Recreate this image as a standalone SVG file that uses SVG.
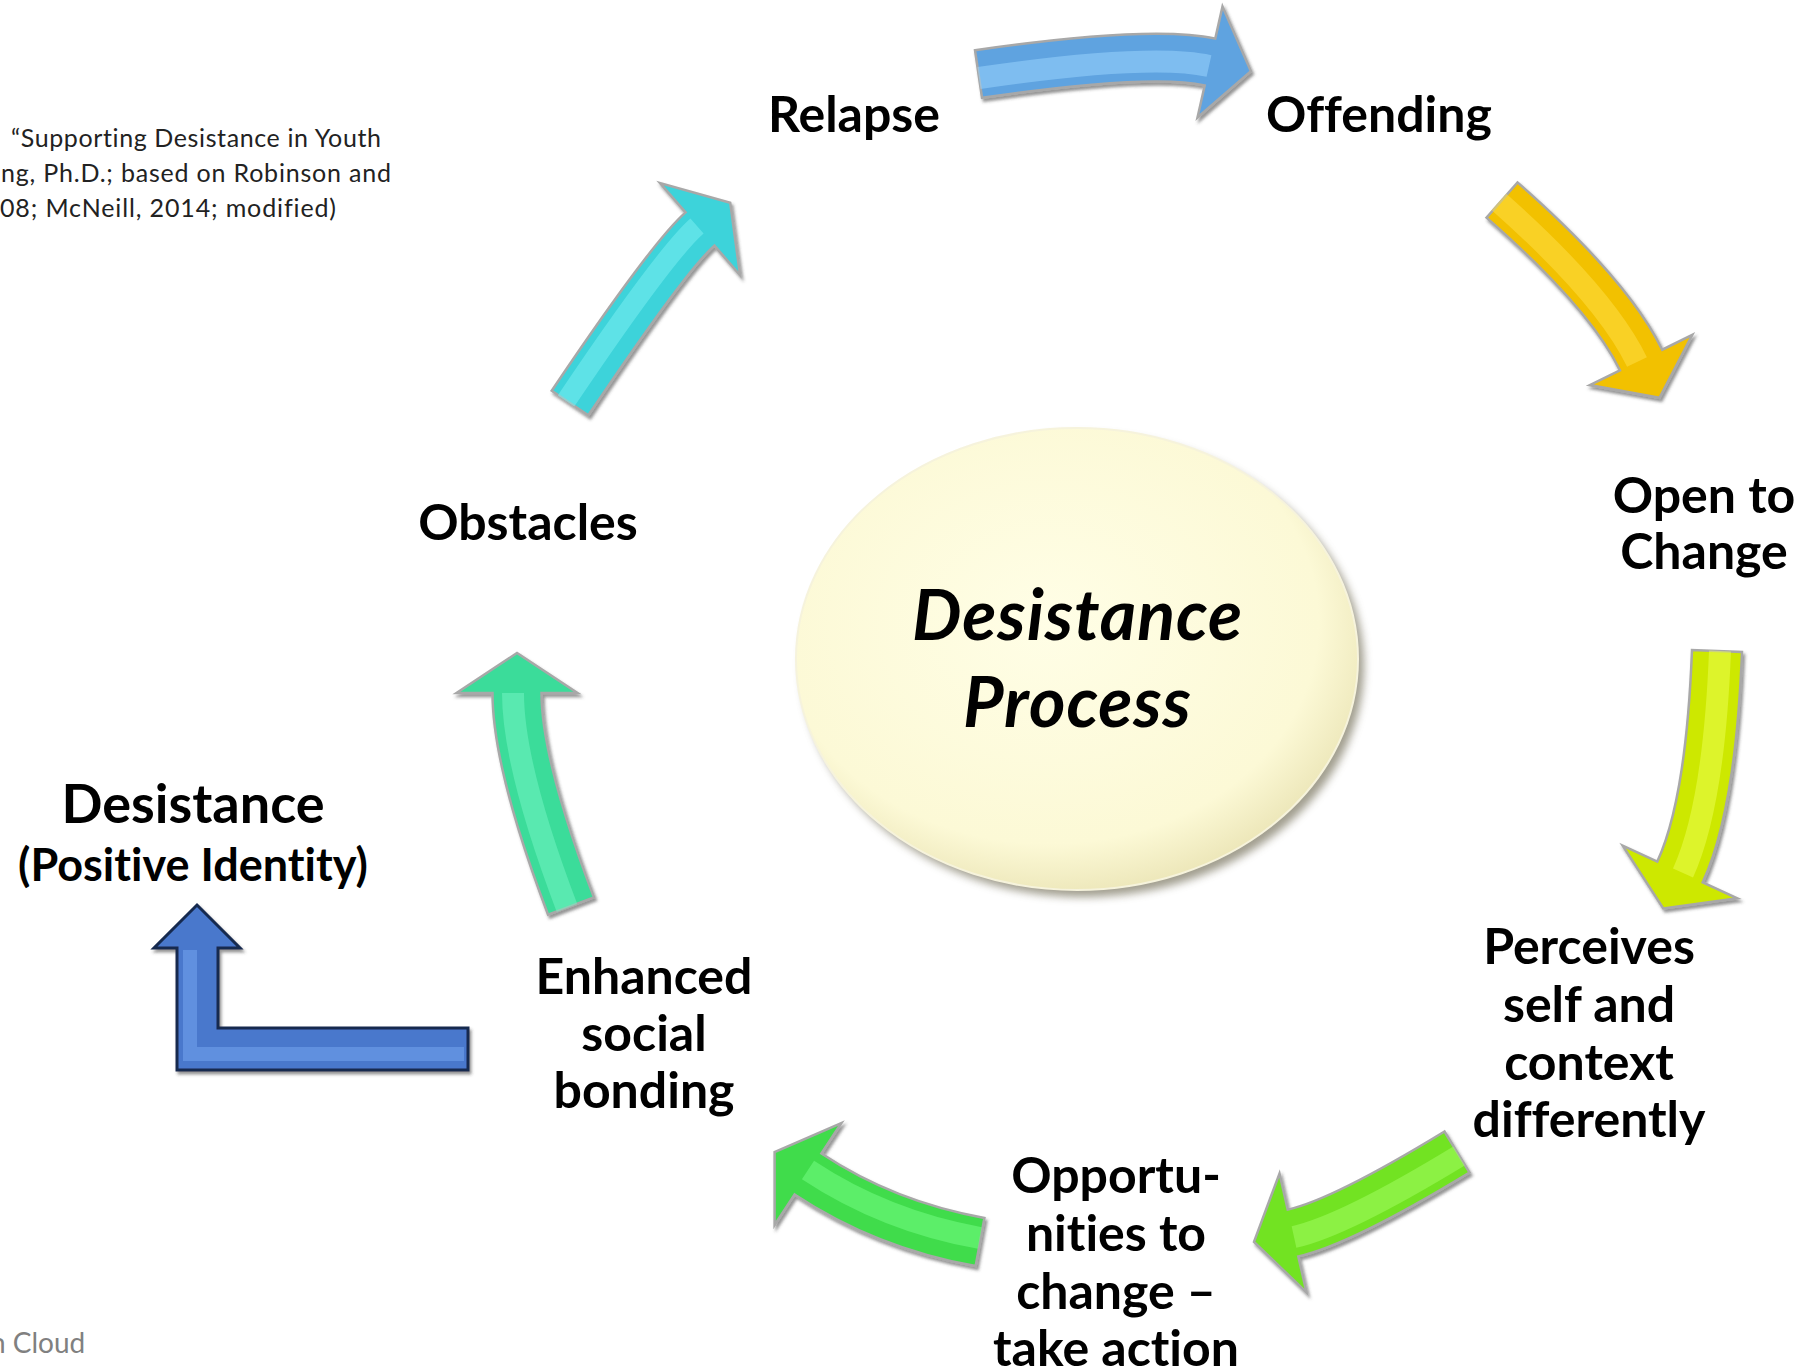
<svg xmlns="http://www.w3.org/2000/svg" width="1803" height="1372" viewBox="0 0 1803 1372">
<defs>
<style>
text{font-variant-ligatures:none}
.lbl{font-family:Lato,"Open Sans","Liberation Sans",sans-serif;font-weight:700;font-size:50px;fill:#000;text-anchor:middle}
.ctr{font-family:Lato,"Open Sans","Liberation Sans",sans-serif;font-weight:700;font-style:italic;font-size:70px;fill:#000;text-anchor:middle}
.cap{font-family:Lato,"Open Sans","Liberation Sans",sans-serif;font-weight:400;font-size:25px;fill:#222}
.foot{font-family:Lato,"Open Sans","Liberation Sans",sans-serif;font-weight:400;font-size:28px;fill:#808080}
.shape{stroke:#a8a8a8;stroke-width:2.5;stroke-linejoin:miter;filter:url(#sh)}
.hl{fill:none;stroke-linecap:butt;opacity:0.5}
</style>
<filter id="sh" x="-20%" y="-20%" width="140%" height="140%">
<feDropShadow dx="2" dy="3" stdDeviation="1.8" flood-color="#404040" flood-opacity="0.55"/>
</filter>
<filter id="esh" x="-10%" y="-10%" width="125%" height="125%">
<feGaussianBlur stdDeviation="4"/>
</filter>
<radialGradient id="eg" cx="0.45" cy="0.42" r="0.6">
<stop offset="0" stop-color="#fffee6"/>
<stop offset="0.8" stop-color="#fcf9d6"/>
<stop offset="1" stop-color="#ece6b8"/>
</radialGradient>
</defs>

<g id="connectors">
<g id="arrow-relapse-offending">
<path class="shape" fill="#5ea3e0" d="M975,50.2 Q1151.9,24.6 1215.3,38.6 L1222.5,6.5 L1250.9,71.2 L1197.5,117.5 L1204.7,85.4 Q1150.1,73.4 982,97.8 Z"/>
<path class="hl" stroke="#9ed8ff" stroke-width="22" d="M979,78 Q1151,53 1209,66"/>
</g>
<g id="arrow-offending-open">
<path class="shape" fill="#f2c100" d="M1517.5,182.4 Q1628,279.5 1662.2,349.7 L1692.3,334.9 L1659.5,397.8 L1589.7,385.1 L1619.9,370.3 Q1590,308.5 1486.5,217.6 Z"/>
<path class="hl" stroke="#ffe24a" stroke-width="22" d="M1499,202 Q1605,296 1637,362"/>
</g>
<g id="arrow-open-perceives">
<path class="shape" fill="#cde800" d="M1742,652 Q1735.8,810.9 1702.7,882.4 L1737.3,898.3 L1663.3,908.4 L1622.7,845.7 L1657.3,861.6 Q1686.2,799.1 1692,650 Z"/>
<path class="hl" stroke="#eeff55" stroke-width="22" d="M1720,651 Q1714,805 1683,873"/>
</g>
<g id="arrow-perceives-opportunities">
<path class="shape" fill="#72e324" d="M1444.5,1131.5 Q1332.9,1199.5 1287.7,1209.6 L1279.5,1173.5 L1254,1241.8 L1306.5,1292.5 L1298.3,1256.4 Q1351.1,1244.5 1469.5,1172.5 Z"/>
<path class="hl" stroke="#a6ff66" stroke-width="22" d="M1459,1156 Q1344,1226 1294,1237"/>
</g>
<g id="arrow-opportunities-enhanced">
<path class="shape" fill="#3fdc4c" d="M984.4,1217.9 Q894.3,1201.8 821.4,1153.5 L841.4,1123 L774.6,1152.1 L774.6,1225 L794.6,1194.5 Q875.7,1248.2 975.6,1266.1 Z"/>
<path class="hl" stroke="#77ff88" stroke-width="22" d="M980,1238 Q885,1221 808,1170"/>
</g>
<g id="arrow-enhanced-obstacles">
<path class="shape" fill="#3bdc9a" d="M548.1,914.7 Q492.5,768.5 492.5,693 L456.5,693 L517,653 L577.5,693 L541.5,693 Q541.5,759.5 593.9,897.3 Z"/>
<path class="hl" stroke="#77f6c6" stroke-width="22" d="M567,908 Q513,766 513,693"/>
</g>
<g id="arrow-obstacles-relapse">
<path class="shape" fill="#3dd3da" d="M551.7,390.7 Q652.4,241.3 685.6,212.4 L660,183 L730.2,202.8 L740,275 L714.4,245.6 Q685.6,270.7 588.3,415.3 Z"/>
<path class="hl" stroke="#80f2f4" stroke-width="20" d="M566,401 Q665,254 697,226"/>
</g>
<g id="arrow-enhanced-desistance">
<path fill="#4a78cc" stroke="#16294f" stroke-width="3" filter="url(#sh)" d="M177,1070 L177,948 L154,948 L197,905 L240,948 L218,948 L218,1028 L468,1028 L468,1070 Z"/>
<path class="hl" stroke="#78a8f2" stroke-width="14" d="M190,950 L190,1054 L464,1054"/>
</g>
</g>

<g id="node-center">
<ellipse cx="1083" cy="666" rx="281" ry="231" fill="#7a7660" filter="url(#esh)" opacity="0.7"/>
<ellipse cx="1077" cy="659" rx="281" ry="231" fill="url(#eg)" stroke="#f6f3dc" stroke-width="2"/>
<text class="ctr" x="1077" y="640" textLength="330">Desistance</text>
<text class="ctr" x="1077" y="727" textLength="228">Process</text>
</g>

<g id="node-relapse"><text class="lbl" x="854" y="132">Relapse</text></g>
<g id="node-offending"><text class="lbl" x="1379" y="132">Offending</text></g>
<g id="node-open"><text class="lbl" x="1704" y="513">Open to</text><text class="lbl" x="1704" y="569">Change</text></g>
<g id="node-perceives">
<text class="lbl" x="1589" y="964">Perceives</text>
<text class="lbl" x="1589" y="1022">self and</text>
<text class="lbl" x="1589" y="1080">context</text>
<text class="lbl" x="1589" y="1137">differently</text>
</g>
<g id="node-opportunities">
<text class="lbl" x="1116" y="1193">Opportu-</text>
<text class="lbl" x="1116" y="1251">nities to</text>
<text class="lbl" x="1116" y="1309">change –</text>
<text class="lbl" x="1116" y="1366">take action</text>
</g>
<g id="node-enhanced">
<text class="lbl" x="644" y="994">Enhanced</text>
<text class="lbl" x="644" y="1051">social</text>
<text class="lbl" x="644" y="1108">bonding</text>
</g>
<g id="node-obstacles"><text class="lbl" x="528" y="540">Obstacles</text></g>
<g id="node-desistance">
<text class="lbl" x="193" y="823" style="font-size:54px">Desistance</text>
<text class="lbl" x="193" y="881" style="font-size:45px">(Positive Identity)</text>
</g>

<g id="caption">
<text class="cap" x="11" y="147" textLength="370">“Supporting Desistance in Youth</text>
<text class="cap" x="1" y="182" textLength="390">ng, Ph.D.; based on Robinson and</text>
<text class="cap" x="0" y="217" textLength="336">08; McNeill, 2014; modified)</text>
<text class="foot" x="-10" y="1353">n Cloud</text>
</g>
</svg>
